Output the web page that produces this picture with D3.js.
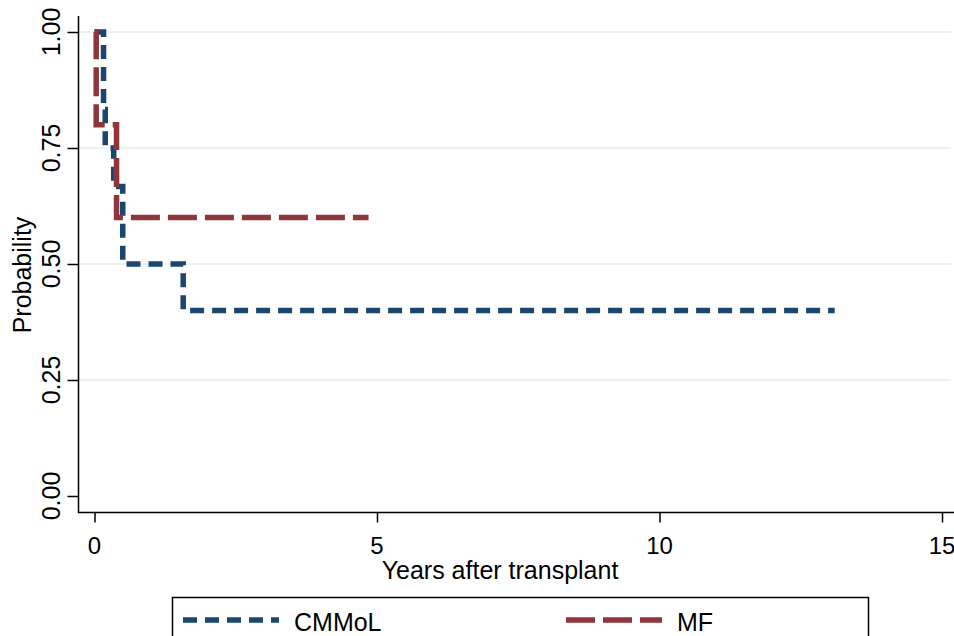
<!DOCTYPE html>
<html>
<head>
<meta charset="utf-8">
<script src="https://cdn.jsdelivr.net/npm/d3@7"></script>
<style>
  body { margin: 0; background: #fff; }
  text { font-family: "Liberation Sans", Arial, sans-serif; fill: #000; }
</style>
</head>
<body>
<svg id="chart" width="954" height="636"></svg>
<script>
// Kaplan-Meier steps
var cmmolYears = [0, 0.16, 0.19, 0.34, 0.5, 1.57, 13.1]
var cmmolProb  = [1, 0.833, 0.75, 0.667, 0.5, 0.4, 0.4]
var mfYears = [0, 0.03, 0.39, 4.85]
var mfProb  = [1, 0.8, 0.6, 0.6]

var xTicks = [0, 5, 10, 15]
var yTicks = [0, 0.25, 0.5, 0.75, 1]
var seriesNames = ["CMMoL", "MF"]
var seriesColors = ["#1a476f", "#90353b"]
var seriesDash = ["14 8", "29 8"]

var svg = d3.select("#chart")

// scales
var xScale = d3.scaleLinear().domain([0, 15]).range([94.5, 942])
var yScale = d3.scaleLinear().domain([0, 1]).range([496, 32])

var fmtY = d3.format(".2f")

// grid lines
svg.append("g").selectAll("line")
  .data(yTicks.filter(d => d > 0))
  .enter().append("line")
  .attr("x1", 79).attr("x2", 951)
  .attr("y1", d => yScale(d)).attr("y2", d => yScale(d))
  .attr("stroke", "#eaf2f3")
  .attr("stroke-width", 2)

// y axis
var yAxis = svg.append("g")
  .attr("transform", "translate(78.5,0)")
  .call(d3.axisLeft(yScale).tickValues(yTicks).tickSize(11).tickSizeOuter(0).tickFormat(""))
yAxis.select(".domain").remove()
yAxis.selectAll(".tick line").attr("stroke", "#000").attr("stroke-width", 1.5)

svg.append("g").selectAll("text")
  .data(yTicks)
  .enter().append("text")
  .attr("transform", d => "translate(60," + yScale(d) + ") rotate(-90)")
  .attr("text-anchor", "middle")
  .attr("font-size", 25)
  .text(d => fmtY(d))

// x axis
var xAxis = svg.append("g")
  .attr("transform", "translate(0,512.5)")
  .call(d3.axisBottom(xScale).tickValues(xTicks).tickSize(10).tickSizeOuter(0).tickFormat(""))
xAxis.select(".domain").remove()
xAxis.selectAll(".tick line").attr("stroke", "#000").attr("stroke-width", 1.5)

svg.append("g").selectAll("text")
  .data(xTicks)
  .enter().append("text")
  .attr("x", d => xScale(d))
  .attr("y", 554)
  .attr("text-anchor", "middle")
  .attr("font-size", 24)
  .text(d => d)

// axis lines
svg.append("line")
  .attr("x1", 78.5).attr("x2", 78.5).attr("y1", 16).attr("y2", 513)
  .attr("stroke", "#000").attr("stroke-width", 1.5)
svg.append("line")
  .attr("x1", 78).attr("x2", 954).attr("y1", 512.5).attr("y2", 512.5)
  .attr("stroke", "#000").attr("stroke-width", 1.5)

// titles
svg.append("text")
  .attr("transform", "translate(31,275) rotate(-90)")
  .attr("text-anchor", "middle")
  .attr("font-size", 25)
  .text("Probability")

svg.append("text")
  .attr("x", 500).attr("y", 579)
  .attr("text-anchor", "middle")
  .attr("font-size", 25)
  .text("Years after transplant")

// survival curves
var line = d3.line()
  .x(d => xScale(d[0]))
  .y(d => yScale(d[1]))
  .curve(d3.curveStepAfter)

var series = [d3.zip(cmmolYears, cmmolProb), d3.zip(mfYears, mfProb)]

svg.append("g").selectAll("path")
  .data(series)
  .enter().append("path")
  .attr("d", d => line(d))
  .attr("fill", "none")
  .attr("stroke", (d, i) => seriesColors[i])
  .attr("stroke-width", 5.5)
  .attr("stroke-dasharray", (d, i) => seriesDash[i])

// legend
var legend = svg.append("g")
legend.append("rect")
  .attr("x", 172.5).attr("y", 597.5)
  .attr("width", 696).attr("height", 60)
  .attr("fill", "#fff").attr("stroke", "#000").attr("stroke-width", 1.5)

var legendX = [183, 566]
seriesNames.forEach(function(name, i) {
  legend.append("line")
    .attr("x1", legendX[i]).attr("x2", legendX[i] + 96)
    .attr("y1", 620).attr("y2", 620)
    .attr("stroke", seriesColors[i])
    .attr("stroke-width", 5.5)
    .attr("stroke-dasharray", seriesDash[i])
  legend.append("text")
    .attr("x", legendX[i] + 111).attr("y", 631)
    .attr("font-size", 25)
    .text(name)
})
</script>
</body>
</html>
